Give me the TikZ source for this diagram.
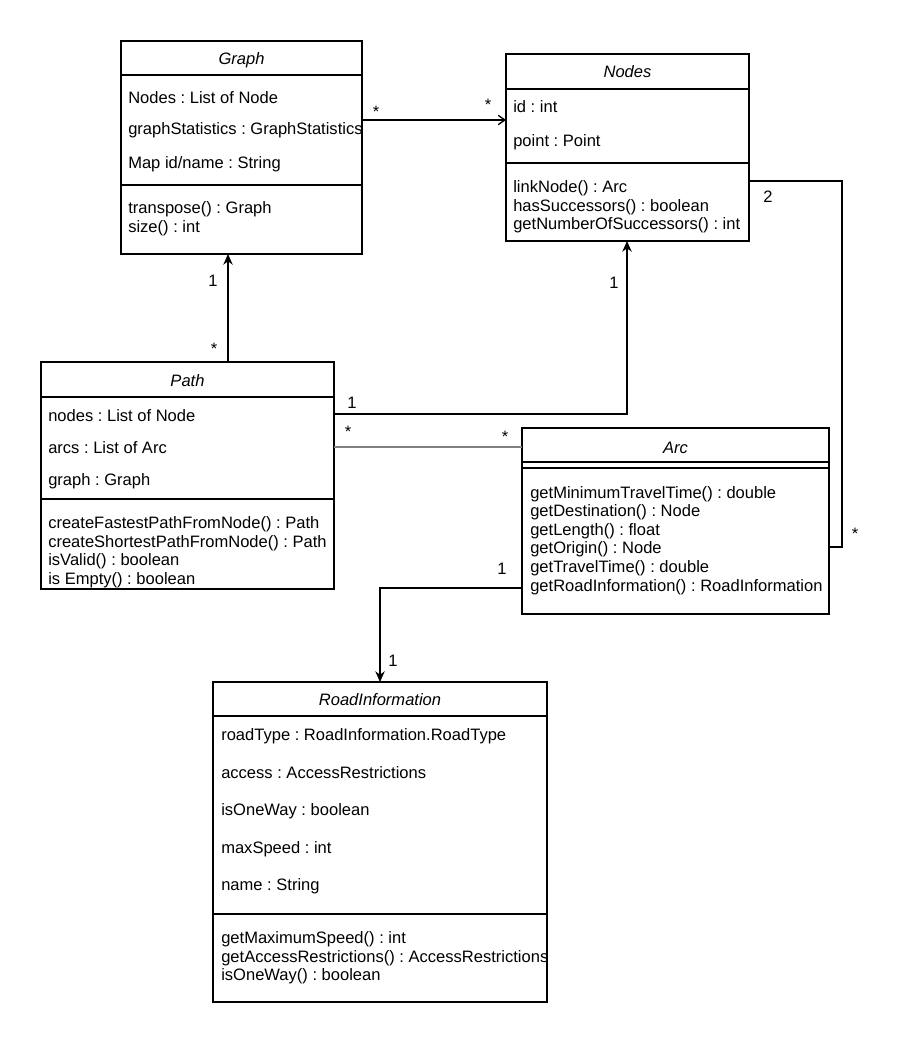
\documentclass[tikz,border=0pt]{standalone}
\usepackage{fontspec}
\setmainfont{Liberation Sans}
\usetikzlibrary{arrows.meta}
\newdimen\upx \upx=0.75pt
\frenchspacing
\begin{document}
\begin{tikzpicture}[x=0.75pt,y=-0.75pt,
  classbox/.style={draw, line width=1pt, inner sep=0pt, outer sep=0pt, anchor=north west},
  cname/.style={inner sep=0pt, anchor=base, font=\fontsize{12.4}{14}\selectfont\itshape},
  member/.style={inner sep=0pt, anchor=base west, font=\fontsize{12.4}{14}\selectfont\frenchspacing},
  mult/.style={inner sep=0pt, anchor=base, font=\fontsize{12.4}{14}\selectfont},
  sepline/.style={line width=1pt},
  assoc/.style={line width=1pt},
  openarrow/.style={assoc, -{Straight Barb[length=5pt,width=7pt]}},
  fillarrow/.style={assoc, -{Stealth[length=8pt,width=7pt,inset=2.5pt]}},
]
\fill[white] (0,0) rectangle (899,1044);
\useasboundingbox (0,0) rectangle (899,1044);

% ---------- Graph ----------
\node[classbox, minimum width=241\upx, minimum height=213\upx] (graph) at (121,41) {};
\node[cname] (graphT) at (241.5,65) {Graph};
\draw[sepline] (graph.north west |- 0,75) -- (graph.north east |- 0,75);
\draw[sepline] (graph.north west |- 0,185) -- (graph.north east |- 0,185);
\begin{scope}
\clip (121,41) rectangle (361,254);
\node[member] (g1) at (128,104) {Nodes : List of Node};
\node[member] (g2) at (128,135) {graphStatistics : GraphStatistics};
\node[member] (g3) at (128,169) {Map id/name : String};
\node[member] (g4) at (128,214) {transpose() : Graph};
\node[member] (g5) at (128,233) {size() : int};
\end{scope}

% ---------- Nodes ----------
\node[classbox, minimum width=243\upx, minimum height=187\upx] (nodes) at (506,54) {};
\node[cname] (nodesT) at (627.5,78) {Nodes};
\draw[sepline] (nodes.north west |- 0,89) -- (nodes.north east |- 0,89);
\draw[sepline] (nodes.north west |- 0,163) -- (nodes.north east |- 0,163);
\node[member] (n1) at (513,113) {id : int};
\node[member] (n2) at (513,147) {point : Point};
\node[member] (n3) at (513,193) {linkNode() : Arc};
\node[member] (n4) at (513,212) {hasSuccessors() : boolean};
\node[member] (n5) at (513,230) {getNumberOfSuccessors() : int};

% ---------- Path ----------
\node[classbox, minimum width=293\upx, minimum height=227\upx] (path) at (41,362) {};
\node[cname] (pathT) at (187.5,386) {Path};
\draw[sepline] (path.north west |- 0,397) -- (path.north east |- 0,397);
\draw[sepline] (path.north west |- 0,499) -- (path.north east |- 0,499);
\node[member] (p1) at (48,421) {nodes : List of Node};
\node[member] (p2) at (48,453) {arcs : List of Arc};
\node[member] (p3) at (48,485) {graph : Graph};
\node[member] (p4) at (48,528) {createFastestPathFromNode() : Path};
\node[member] (p5) at (48,547) {createShortestPathFromNode() : Path};
\node[member] (p6) at (48,565) {isValid() : boolean};
\node[member] (p7) at (48,584) {is Empty() : boolean};

% ---------- Arc ----------
\node[classbox, minimum width=307\upx, minimum height=186\upx] (arc) at (522,428) {};
\node[cname] (arcT) at (675.5,453) {Arc};
\draw[sepline] (arc.north west |- 0,462) -- (arc.north east |- 0,462);
\draw[sepline] (arc.north west |- 0,468) -- (arc.north east |- 0,468);
\node[member] (a1) at (530,498) {getMinimumTravelTime() : double};
\node[member] (a2) at (530,516) {getDestination() : Node};
\node[member] (a3) at (530,535) {getLength() : float};
\node[member] (a4) at (530,553) {getOrigin() : Node};
\node[member] (a5) at (530,572) {getTravelTime() : double};
\node[member] (a6) at (530,591) {getRoadInformation() : RoadInformation};

% ---------- RoadInformation ----------
\node[classbox, minimum width=334\upx, minimum height=320\upx] (road) at (213,682) {};
\node[cname] (roadT) at (380,705) {RoadInformation};
\draw[sepline] (road.north west |- 0,716) -- (road.north east |- 0,716);
\draw[sepline] (road.north west |- 0,914) -- (road.north east |- 0,914);
\begin{scope}
\clip (213,682) rectangle (546,1002);
\node[member] (r1) at (221,740) {roadType : RoadInformation.RoadType};
\node[member] (r2) at (221,778) {access : AccessRestrictions};
\node[member] (r3) at (221,815) {isOneWay : boolean};
\node[member] (r4) at (221,853) {maxSpeed : int};
\node[member] (r5) at (221,890) {name : String};
\node[member] (r6) at (221,943) {getMaximumSpeed() : int};
\node[member] (r7) at (221,962) {getAccessRestrictions() : AccessRestrictions};
\node[member] (r8) at (221,980) {isOneWay() : boolean};
\end{scope}

% ---------- Connectors ----------
% Graph -> Nodes
\draw[openarrow] (graph.north east |- 0,120) -- (nodes.north west |- 0,120);
\node[mult] (m1) at (376,118) {*};
\node[mult] (m2) at (488,111) {*};

% Path -> Graph
\draw[fillarrow] (228,0 |- path.north) -- (228,0 |- graph.south);
\node[mult] (m3) at (213,287) {1};
\node[mult] (m4) at (214,354) {*};

% Path -> Nodes
\draw[fillarrow] (path.north east |- 0,414) -- (627,414) -- (627,0 |- nodes.south);
\node[mult] (m5) at (352,408) {1};
\node[mult] (m6) at (614,289) {1};

% Path -- Arc
\draw[assoc, draw={rgb,255:red,128;green,128;blue,128}] (path.north east |- 0,447) -- (arc.north west |- 0,447);
\node[mult] (m7) at (348,437) {*};
\node[mult] (m8) at (505,442) {*};

% Nodes -- Arc
\draw[assoc] (nodes.north east |- 0,181) -- (842,181) -- (842,547) -- (arc.north east |- 0,547);
\node[mult] (m9) at (768,203) {2};
\node[mult] (m10) at (855,539) {*};

% Arc -> RoadInformation
\draw[fillarrow] (arc.north west |- 0,588) -- (380,588) -- (380,0 |- road.north);
\node[mult] (m11) at (502,574) {1};
\node[mult] (m12) at (393,666) {1};

\end{tikzpicture}
\end{document}
